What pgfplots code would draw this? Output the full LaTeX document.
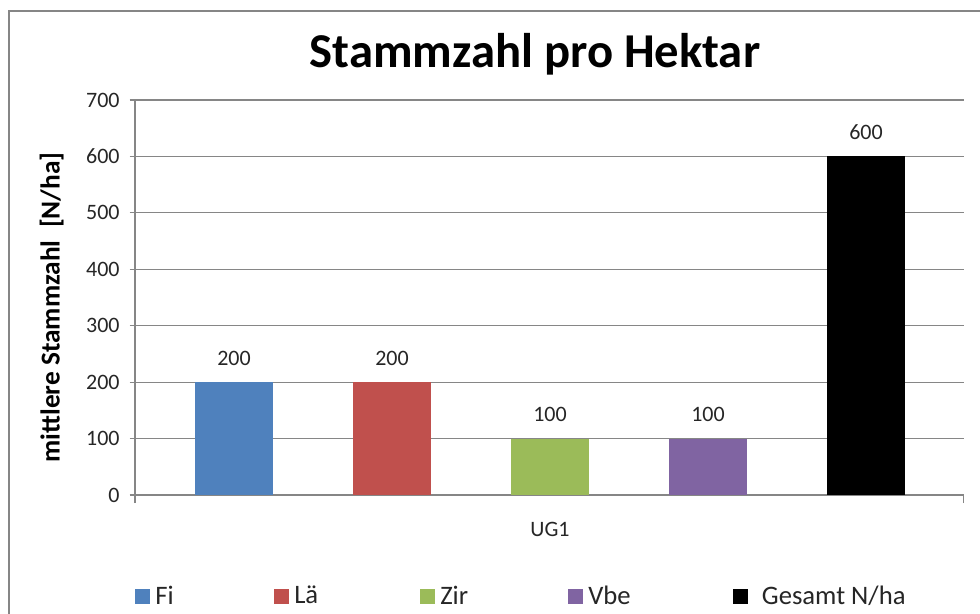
\documentclass[border=0pt]{standalone}
\usepackage{pgfplots}
\pgfplotsset{compat=1.18}
\usepackage{fontspec}
\setmainfont{Carlito}

\definecolor{cFi}{HTML}{4F81BD}
\definecolor{cLa}{HTML}{C0504D}
\definecolor{cZir}{HTML}{9BBB59}
\definecolor{cVbe}{HTML}{8064A2}
\definecolor{axgray}{HTML}{868686}
\definecolor{txt}{HTML}{262626}

\begin{document}
\begin{tikzpicture}
% page = 980 x 613 px, 1 px = 0.75pt, plot area origin at (135,495) px
\path[use as bounding box] (-101.25pt,-88.5pt) rectangle (633.75pt,371.25pt);
\draw[axgray, line width=1.6pt] (-94.5pt,-90pt) -- (-94.5pt,363pt) -- (640pt,363pt);

\begin{axis}[
    scale only axis,
    width=621.75pt,
    height=296.25pt,
    ybar,
    bar width=0.494,
    xmin=-0.627, xmax=4.62,
    ymin=0, ymax=700,
    ytick={0,100,...,700},
    xtick={2},
    xticklabels={UG1},
    axis lines=left,
    axis line style={axgray, -, line width=0.9pt},
    ymajorgrids,
    grid style={axgray, line width=0.9pt},
    tick align=outside,
    major tick length=4pt,
    tick style={axgray, line width=0.9pt},
    x tick style={draw=none},
    extra x ticks={-0.627,4.615},
    extra x tick labels={},
    extra x tick style={grid=none, x tick style={draw=axgray, line width=0.9pt}, major tick length=6pt},
    /pgf/number format/assume math mode=true,
    ticklabel style={font=\fontsize{16.5}{18}\selectfont, text=txt},
    yticklabel style={xshift=-4pt},
    xticklabel style={font=\fontsize{16.5}{18}\selectfont, text=txt, anchor=center, yshift=-22pt},
    title={Stammzahl pro Hektar},
    title style={font=\fontsize{36.5}{42}\bfseries, at={(axis description cs:0.4825,1.095)}, anchor=center},
    ylabel={mittlere Stammzahl\ \ [N/ha]},
    every axis y label/.style={at={(axis description cs:-0.1005,0.475)}, rotate=90, anchor=center, font=\fontsize{20.5}{24}\selectfont\bfseries},
    nodes near coords,
    every node near coord/.append style={font=\fontsize{16.5}{18}\selectfont, text=txt, yshift=9pt},
    legend columns=5,
    legend style={draw=none, at={(axis description cs:0,-0.256)}, anchor=west,
        font=\fontsize{20}{23}\selectfont, text=txt, inner sep=0pt,
        nodes={inner sep=0pt},
        /tikz/every odd column/.append style={column sep=3.75pt},
        /tikz/every even column/.append style={column sep=0pt}},
    legend image code/.code={\fill[#1] (0pt,-5.6pt) rectangle (11.25pt,5.6pt);},
]
\addplot[fill=cFi, draw=none, bar shift=0pt] coordinates {(0,200)};
\addplot[fill=cLa, draw=none, bar shift=0pt] coordinates {(1,200)};
\addplot[fill=cZir, draw=none, bar shift=0pt] coordinates {(2,100)};
\addplot[fill=cVbe, draw=none, bar shift=0pt] coordinates {(3,100)};
\addplot[fill=black, draw=none, bar shift=0pt] coordinates {(4,600)};
\legend{\makebox[89.25pt][l]{Fi}, \makebox[94.5pt][l]{Lä}, \makebox[96pt][l]{Zir}, \makebox[108.75pt][l]{Vbe}, \hspace{6.5pt}Gesamt N/ha}
\end{axis}
\end{tikzpicture}
\end{document}
